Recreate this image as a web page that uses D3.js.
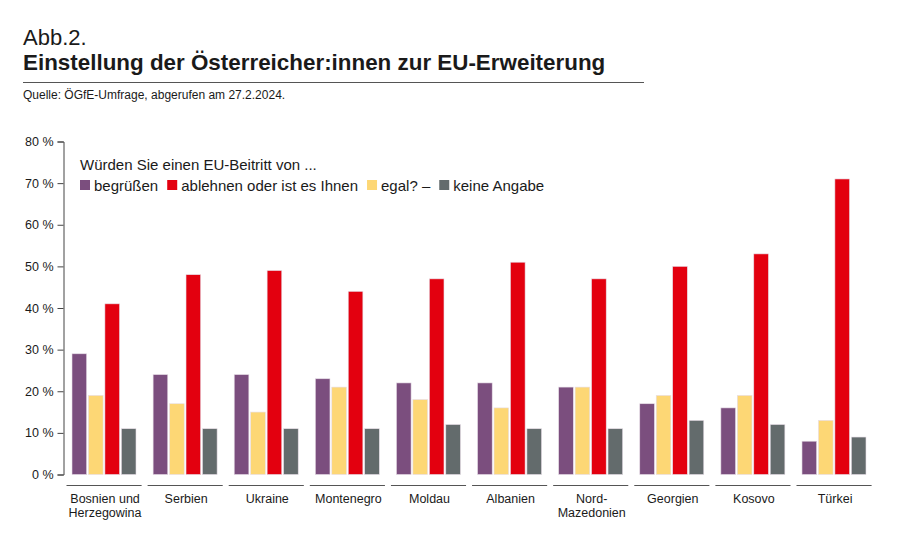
<!DOCTYPE html>
<html>
<head>
<meta charset="utf-8">
<script src="https://d3js.org/d3.v7.min.js"></script>
<style>
  body { margin: 0; background: #fff; }
  text { font-family: "Liberation Sans", Arial, sans-serif; fill: #1a1a1a; }
</style>
</head>
<body>
<script>
// Daten
const countries = ["Bosnien und|Herzegowina", "Serbien", "Ukraine", "Montenegro", "Moldau",
                   "Albanien", "Nord-|Mazedonien", "Georgien", "Kosovo", "Türkei"];
const begruessen = [29, 24, 24, 23, 22, 22, 21, 17, 16, 8];
const egal       = [19, 17, 15, 21, 18, 16, 21, 19, 19, 13];
const ablehnen   = [41, 48, 49, 44, 47, 51, 47, 50, 53, 71];
const keineAngabe = [11, 11, 11, 11, 12, 11, 11, 13, 12, 9];
const yTicks = [0, 10, 20, 30, 40, 50, 60, 70, 80];

const seriesKeys = ["begruessen", "egal", "ablehnen", "keine"];
const colors = {begruessen: "#7b4e7e", egal: "#fdd775", ablehnen: "#e3000f", keine: "#636b6c"};
const legendItems = [
    {key: "begruessen", label: "begrüßen"},
    {key: "ablehnen", label: "ablehnen oder ist es Ihnen"},
    {key: "egal", label: "egal? –"},
    {key: "keine", label: "keine Angabe"}
];

const width = 900, height = 540;

const svg = d3.select("body").append("svg")
    .attr("width", width)
    .attr("height", height);

// Kopf
svg.append("text").attr("x", 23).attr("y", 44.5)
    .attr("font-size", 22).text("Abb.2.");
svg.append("text").attr("x", 23).attr("y", 70)
    .attr("font-size", 22.4).attr("font-weight", "bold")
    .text("Einstellung der Österreicher:innen zur EU-Erweiterung");
svg.append("line")
    .attr("x1", 23).attr("x2", 644).attr("y1", 82.5).attr("y2", 82.5)
    .attr("stroke", "#555").attr("stroke-width", 1);
svg.append("text").attr("x", 23).attr("y", 99)
    .attr("font-size", 12).text("Quelle: ÖGfE-Umfrage, abgerufen am 27.2.2024.");

const y = d3.scaleLinear().domain([0, 80]).range([474.5, 141.5]);
const x = d3.scaleBand().domain(countries).range([63.5, 874.6]);
const xs = d3.scaleBand().domain(seriesKeys).range([8.5, 72.5]).paddingInner(0.11);

// y-Achse
const yAxis = d3.axisLeft(y).tickValues(yTicks).tickSize(6).tickPadding(4)
    .tickFormat(d => d + " %");
const ya = svg.append("g").attr("transform", "translate(63.5,0)").call(yAxis);
ya.select(".domain").attr("stroke", "#444");
ya.selectAll(".tick line").attr("stroke", "#444");
ya.selectAll(".tick text").attr("font-size", 12.5).attr("font-family", "Liberation Sans, Arial, sans-serif")
    .attr("fill", "#1a1a1a");

// Balken
const rows = countries.map((c, i) => ({
    country: c,
    begruessen: begruessen[i], egal: egal[i], ablehnen: ablehnen[i], keine: keineAngabe[i]
}));

const groups = svg.append("g").selectAll("g")
    .data(rows)
    .join("g")
    .attr("transform", d => `translate(${x(d.country)},0)`);

groups.selectAll("rect")
    .data(d => seriesKeys.map(k => ({key: k, value: d[k]})))
    .join("rect")
    .attr("x", d => xs(d.key))
    .attr("width", xs.bandwidth())
    .attr("y", d => y(d.value))
    .attr("height", d => y(0) - y(d.value))
    .attr("fill", d => colors[d.key])
    .attr("stroke", "#e6dde6")
    .attr("stroke-width", 0.6);

// Unterstreichung je Land
groups.append("line")
    .attr("x1", 3).attr("x2", x.bandwidth() - 3)
    .attr("y1", 485.5).attr("y2", 485.5)
    .attr("stroke", "#555").attr("stroke-width", 1.2);

// Ländernamen
groups.append("text")
    .attr("text-anchor", "middle")
    .attr("font-size", 12.5)
    .attr("y", 503)
    .selectAll("tspan")
    .data(d => d.country.split("|"))
    .join("tspan")
    .attr("x", x.bandwidth() / 2 + 1)
    .attr("dy", (d, i) => i === 0 ? 0 : 14)
    .text(d => d);

// Legende
svg.append("text").attr("x", 80).attr("y", 170)
    .attr("font-size", 15).text("Würden Sie einen EU-Beitritt von ...");

let lx = 80;
legendItems.forEach(item => {
    svg.append("rect")
        .attr("x", lx).attr("y", 180).attr("width", 10).attr("height", 10)
        .attr("fill", colors[item.key]);
    const t = svg.append("text").attr("x", lx + 14).attr("y", 191)
        .attr("font-size", 15).text(item.label);
    lx += 14 + t.node().getComputedTextLength() + 9;
});
</script>
</body>
</html>
